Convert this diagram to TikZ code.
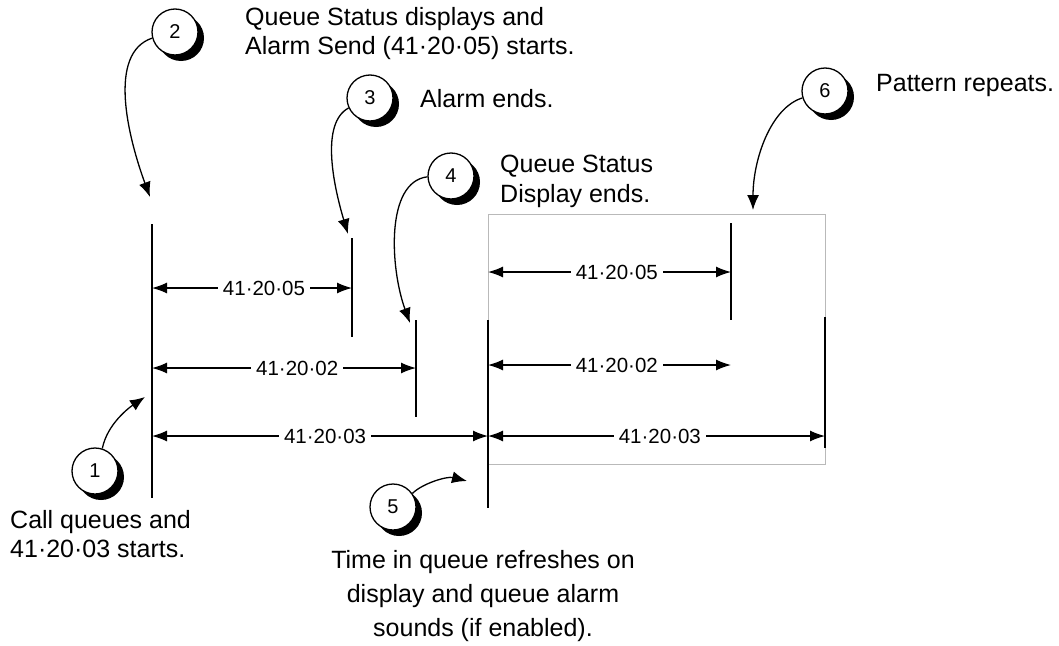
\documentclass[tikz,border=0pt]{standalone}
\usepackage{fontspec}
\setmainfont{Liberation Sans}
\usetikzlibrary{arrows.meta,shadows}
\tikzset{
  callout/.style={circle, draw, line width=1.3pt, fill=white, minimum size=46pt,
    inner sep=0pt, font=\fontsize{20}{20}\selectfont,
    drop shadow={shadow xshift=6pt, shadow yshift=-6pt, fill=black, opacity=1}},
  note/.style={font=\fontsize{25}{29}\selectfont, align=left, anchor=north west, inner sep=0pt},
  marker/.style={line width=1.6pt},
  dim/.style={{Latex[length=15pt,width=11pt]}-{Latex[length=15pt,width=11pt]}, line width=1.3pt},
  dimlabel/.style={fill=white, inner sep=5pt, font=\fontsize{20.5}{20.5}\selectfont},
  pointer/.style={-{Latex[length=15pt,width=12pt]}, line width=1.3pt},
}
\begin{document}
\begin{tikzpicture}[x=1pt, y=-1pt]
    \useasboundingbox (0,0) rectangle (1059,645);
    % repeat frame
    \draw[gray!55, line width=1pt] (488,214) rectangle (825,464);
    % time markers
    \coordinate (s1) at (152,224); \coordinate (e1) at (152,498);
    \coordinate (s2) at (352,238); \coordinate (e2) at (352,337);
    \coordinate (s3) at (416,320); \coordinate (e3) at (416,417);
    \coordinate (s4) at (488,320); \coordinate (e4) at (488,508);
    \coordinate (s5) at (731,223); \coordinate (e5) at (731,320);
    \coordinate (s6) at (825,317); \coordinate (e6) at (825,448);
    \draw[marker] (s1) -- (e1);
    \draw[marker] (s2) -- (e2);
    \draw[marker] (s3) -- (e3);
    \draw[marker] (s4) -- (e4);
    \draw[marker] (s5) -- (e5);
    \draw[marker] (s6) -- (e6);
    % timer spans
    \coordinate (a1) at (152,288); \coordinate (b1) at (352,288);
    \coordinate (a2) at (152,368); \coordinate (b2) at (416,368);
    \coordinate (a3) at (152,436); \coordinate (b3) at (488,436);
    \coordinate (a4) at (488,272); \coordinate (b4) at (731,272);
    \coordinate (a5) at (488,365); \coordinate (b5) at (731,365);
    \coordinate (a6) at (488,436); \coordinate (b6) at (825,436);
    \draw[dim] (a1) -- node[dimlabel, pos=0.56] {41·20·05} (b1);
    \draw[dim] (a2) -- node[dimlabel, pos=0.55] {41·20·02} (b2);
    \draw[dim] (a3) -- node[dimlabel, pos=0.515] {41·20·03} (b3);
    \draw[dim] (a4) -- node[dimlabel, pos=0.53] {41·20·05} (b4);
    \draw[dim] (a5) -- node[dimlabel, pos=0.53] {41·20·02} (b5);
    \draw[dim] (a6) -- node[dimlabel, pos=0.51] {41·20·03} (b6);
    % numbered steps
    \node[callout] (c1) at (95,471) {1};
    \node[callout] (c2) at (175,32) {2};
    \node[callout] (c3) at (370,98) {3};
    \node[callout] (c4) at (451,176) {4};
    \node[callout] (c5) at (393,507) {5};
    \node[callout] (c6) at (825,91) {6};
    \coordinate (p1) at (145,397);
    \coordinate (p2) at (150,197);
    \coordinate (p3) at (348,234);
    \coordinate (p4) at (410,323);
    \coordinate (p5) at (467,481);
    \coordinate (p6) at (753,210);
    \draw[pointer] (c1.72) .. controls +(5,-25) and +(-15,10) .. (p1);
    \draw[pointer] (c2.195) .. controls +(-45,15) and +(-22,-60) .. (p2);
    \draw[pointer] (c3.205) .. controls +(-28,15) and +(-15,-50) .. (p3);
    \draw[pointer] (c4.182) .. controls +(-42,5) and +(-20,-55) .. (p4);
    \draw[pointer] (c5.35) .. controls +(10,-10) and +(-20,-5) .. (p5);
    \draw[pointer] (c6.197) .. controls +(-32,10) and +(0,-50) .. (p6);
    % notes
    \node[note] (n2) at (245,7) {Queue Status displays and\\Alarm Send (41·20·05) starts.};
    \node[note] (n3) at (420,89) {Alarm ends.};
    \node[note, font=\fontsize{25}{30}\selectfont] (n4) at (500,155) {Queue Status\\Display ends.};
    \node[note] (n6) at (876,74) {Pattern repeats.};
    \node[note] (n1) at (10,510) {Call queues and\\41·20·03 starts.};
    \node[note, anchor=north, align=center, font=\fontsize{25}{34}\selectfont] (n5) at (483,550)
        {Time in queue refreshes on\\display and queue alarm\\sounds (if enabled).};
\end{tikzpicture}
\end{document}
